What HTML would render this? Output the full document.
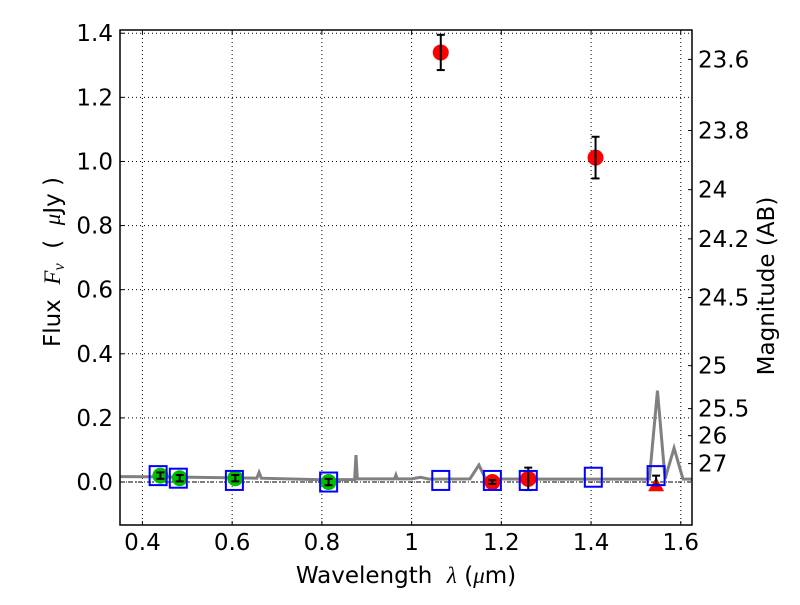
<!DOCTYPE html>
<html><head><meta charset="utf-8"><style>
body{margin:0;background:#fff;width:800px;height:600px;overflow:hidden}
svg text{font-family:"DejaVu Sans","Liberation Sans",sans-serif;fill:#000}
</style></head><body>
<svg id="c" width="800" height="600"></svg>
<script>
const xTicks=[0.4,0.6,0.8,1.0,1.2,1.4,1.6];
const xTickLabels=["0.4","0.6","0.8","1","1.2","1.4","1.6"];
const yTicks=[0,0.2,0.4,0.6,0.8,1.0,1.2,1.4];
const yTickLabels=["0.0","0.2","0.4","0.6","0.8","1.0","1.2","1.4"];
const magTicks=[23.6,23.8,24,24.2,24.5,25,25.5,26,27];
const magLabels=["23.6","23.8","24","24.2","24.5","25","25.5","26","27"];
const specX=[0.35,0.45,0.55,0.655,0.66,0.665,0.8,0.873,0.876,0.879,0.95,0.962,0.965,0.968,1.0,1.02,1.04,1.13,1.15,1.165,1.3,1.53,1.548,1.565,1.585,1.605,1.625];
const specY=[0.017,0.016,0.014,0.012,0.03,0.012,0.007,0.008,0.084,0.01,0.01,0.01,0.022,0.01,0.01,0.015,0.009,0.01,0.053,0.01,0.009,0.009,0.285,0.01,0.106,0.009,0.009];
const greenX=[0.44,0.483,0.607,0.815];
const greenY=[0.02,0.012,0.012,0.0];
const greenErr=[0.01,0.01,0.01,0.01];
const redX=[1.065,1.41,1.18,1.26];
const redY=[1.34,1.012,0.0,0.01];
const redErr=[0.055,0.065,0.006,0.035];
const limX=[1.545];
const limY=[-0.01];
const limErr=[0.03];
const modelX=[0.435,0.48,0.605,0.815,1.065,1.18,1.26,1.405,1.545];
const modelY=[0.02,0.012,0.005,0.0,0.005,0.005,0.005,0.015,0.02];

const L=120,R=692,T=30,B=525,X0=0.35,X1=1.625,Y0=-0.134,Y1=1.41;
const sx=v=>L+(v-X0)/(X1-X0)*(R-L);
const sy=v=>B-(v-Y0)/(Y1-Y0)*(B-T);
const svg=document.getElementById('c');
const NS='http://www.w3.org/2000/svg';
function mk(tag,attrs,parent){const e=document.createElementNS(NS,tag);for(const k in attrs)e.setAttribute(k,attrs[k]);(parent||svg).appendChild(e);return e;}

xTicks.forEach((v,i)=>{
 const g=mk('line',{x1:sx(v),x2:sx(v),y1:T,y2:B,stroke:'#000','stroke-width':1,'stroke-dasharray':'1,3'});
 
 
 mk('line',{x1:sx(v),x2:sx(v),y1:B,y2:B-4,stroke:'#000'});
 mk('line',{x1:sx(v),x2:sx(v),y1:T,y2:T+4,stroke:'#000'});
 const t=mk('text',{x:sx(v),y:B+25,'font-size':23,'text-anchor':'middle'});t.textContent=xTickLabels[i];
 
 
});
yTicks.forEach((v,i)=>{
 const g=mk('line',{x1:L,x2:R,y1:sy(v),y2:sy(v),stroke:'#000','stroke-width':1,'stroke-dasharray':'1,3'});
 
 
 mk('line',{x1:L,x2:L+4,y1:sy(v),y2:sy(v),stroke:'#000'});
 const t=mk('text',{x:L-7,y:sy(v)+8,'font-size':23,'text-anchor':'end'});t.textContent=yTickLabels[i];
 
 
});
magTicks.forEach((m,i)=>{
 const y=sy(Math.pow(10,(23.9-m)/2.5));
 mk('line',{x1:R,x2:R-4,y1:y,y2:y,stroke:'#000'});
 const t=mk('text',{x:R+6,y:y+8,'font-size':23});t.textContent=magLabels[i];
 
 
});
mk('line',{x1:L,x2:R,y1:sy(0),y2:sy(0),stroke:'#000','stroke-dasharray':'4,2,1,2','stroke-width':1});
const sp=mk('polyline',{points:specX.map((x,i)=>sx(x)+','+sy(specY[i])).join(' '),fill:'none',stroke:'#808080','stroke-width':3,'stroke-linejoin':'miter'});


function err(x,y,e,w){mk('line',{x1:sx(x),x2:sx(x),y1:sy(y-e),y2:sy(y+e),stroke:'#000','stroke-width':2});
 mk('line',{x1:sx(x)-w,x2:sx(x)+w,y1:sy(y-e),y2:sy(y-e),stroke:'#000','stroke-width':2});
 mk('line',{x1:sx(x)-w,x2:sx(x)+w,y1:sy(y+e),y2:sy(y+e),stroke:'#000','stroke-width':2});}
greenX.forEach((x,i)=>{const c=mk('circle',{cx:sx(x),cy:sy(greenY[i]),r:8,fill:'#00bb00'});
 
 
 err(x,greenY[i],greenErr[i],4);});
redX.forEach((x,i)=>{const c=mk('circle',{cx:sx(x),cy:sy(redY[i]),r:8,fill:'#ff0000'});
 
 
 err(x,redY[i],redErr[i],4);});
limX.forEach((x,i)=>{const cx=sx(x),cy=sy(limY[i]);
 const p=mk('polygon',{points:`${cx},${cy-8} ${cx-8},${cy+6} ${cx+8},${cy+6}`,fill:'#ff0000'});
 
 
 err(x,limY[i]+limErr[i]/2,limErr[i]/2,4);});
modelX.forEach((x,i)=>{const r=mk('rect',{x:sx(x)-8.5,y:sy(modelY[i])-9.5,width:17,height:19,fill:'none',stroke:'#0000ff','stroke-width':2});
 
 });
const f=mk('rect',{x:L,y:T,width:R-L,height:B-T,fill:'none',stroke:'#000','stroke-width':1.5});


</script>
<svg width="800" height="600" style="position:absolute;left:0;top:0">
<text x="406" y="583" font-size="23" text-anchor="middle">Wavelength&#160;&#160;<tspan font-style="italic" font-family="Liberation Serif">λ</tspan>&#160;(<tspan font-style="italic" font-family="Liberation Serif">μ</tspan>m)</text>
<text transform="translate(60,262) rotate(-90)" font-size="23" text-anchor="middle">Flux&#160;&#160;<tspan font-style="italic" font-family="Liberation Serif">F<tspan font-size="16" dy="4">ν</tspan></tspan><tspan dy="-4">&#160;&#160;(&#160;&#160;</tspan><tspan font-style="italic" font-family="Liberation Serif">μ</tspan>Jy&#160;)</text>
<text transform="translate(774,286) rotate(-90)" font-size="23" text-anchor="middle">Magnitude (AB)</text>
</svg>
</body></html>
